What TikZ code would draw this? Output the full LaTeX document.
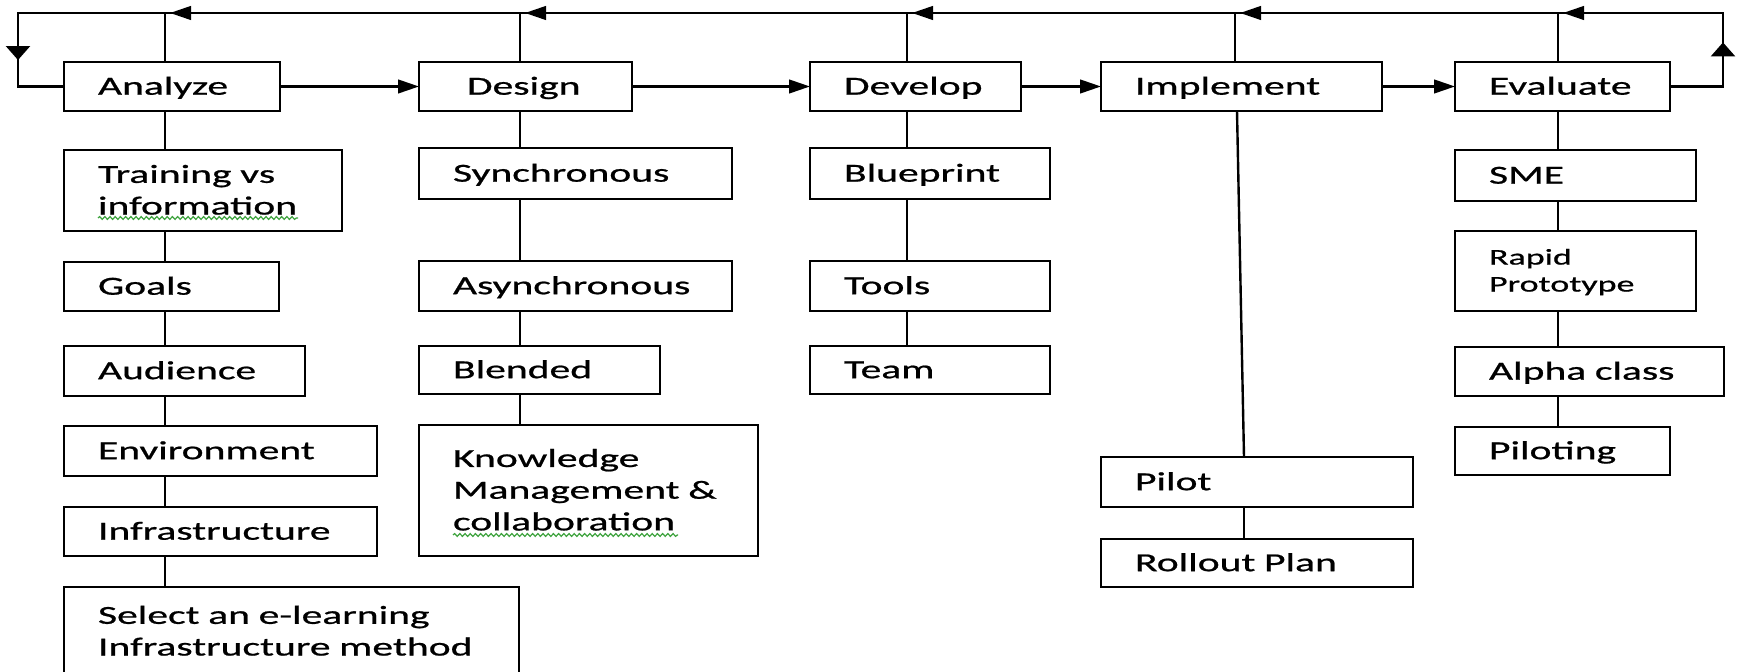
\documentclass[tikz,border=0pt]{standalone}
\usepackage{fontspec}
\setmainfont{Carlito}[FakeStretch=1.6, FakeBold=0.8]
\usetikzlibrary{arrows.meta, positioning, calc, backgrounds, decorations.pathmorphing}
\definecolor{spellgreen}{HTML}{3DA33D}
\hyphenpenalty=10000
\exhyphenpenalty=10000
\tikzset{
  box/.style={rectangle, draw, line width=1.2pt, fill=white, align=left,
              text width=#1, inner xsep=17pt, inner ysep=0pt, outer sep=0pt,
              minimum height=25pt, font=\fontsize{13}{15.85}\selectfont,
              execute at begin node={\rule{0pt}{0.92em}},
              execute at end node={\rule[-0.29em]{0pt}{0.29em}}},
  main/.style={box=#1, minimum height=24.5pt},
  small/.style={box=#1, font=\fontsize{11.25}{13.5}\selectfont},
  link/.style={line width=1.2pt},
  flow/.style={link, -{Triangle[length=10.5pt, width=6.8pt]}},
  flowv/.style={link, -{Triangle[length=7pt, width=12pt]}},
  back/.style={flow, shorten >=2.5pt},
  squig/.style={spellgreen, line width=0.6pt, decorate,
                decoration={snake, amplitude=0.7pt, segment length=2.6pt}},
}

\begin{document}
\begin{tikzpicture}[x=0.5pt, y=-0.5pt]
  \useasboundingbox (0,0) rectangle (1740,672);
  \clip (0,0) rectangle (1740,672);

  \node[main=74pt, anchor=north west] (an) at (64,62) {Analyze};
  \node[main=72.5pt, right=69.5pt of an] (de) {\hspace*{7pt}Design};
  \node[main=71.5pt, right=89pt of de] (dv) {Develop};
  \node[main=106.5pt, right=40pt of dv] (im) {Implement};
  \node[main=73.5pt, right=36.5pt of im] (ev) {Evaluate};

  \node[box=105pt, minimum height=40.5pt, below right=19.5pt and 0pt of an.south west] (trn) {Training vs\\information};
  \node[box=73.5pt, minimum height=24.5pt, below right=15.5pt and 0pt of trn.south west] (goa) {Goals};
  \node[box=86.5pt, below right=17.5pt and 0pt of goa.south west] (aud) {Audience};
  \node[box=122.5pt, below right=15pt and 0pt of aud.south west] (env) {Environment};
  \node[box=122.5pt, minimum height=24.5pt, below right=15.5pt and 0pt of env.south west] (inf) {Infrastructure};
  \node[box=193.5pt, minimum height=44.5pt, below right=15.5pt and 0pt of inf.south west] (sel) {Select an e-learning\\Infrastructure method};

  \node[box=122.5pt, minimum height=25.5pt, below right=18.5pt and 0pt of de.south west] (syn) {Synchronous};
  \node[box=122.5pt, below right=31pt and 0pt of syn.south west] (asy) {Asynchronous};
  \node[box=86.5pt, minimum height=24pt, below right=17.5pt and 0pt of asy.south west] (ble) {Blended};
  \node[box=135.5pt, minimum height=65.5pt, below right=15.5pt and 0pt of ble.south west] (kno) {Knowledge\\Management~\&\\collaboration};

  \node[box=86pt, minimum height=25.5pt, below right=18.5pt and 0pt of dv.south west] (blu) {Blueprint};
  \node[box=86pt, below right=31pt and 0pt of blu.south west] (too) {Tools};
  \node[box=86pt, minimum height=24pt, below right=17.5pt and 0pt of too.south west] (tea) {Team};

  \node[box=122pt, below right=173pt and 0pt of im.south west] (pil) {Pilot};
  \node[box=122pt, minimum height=24pt, below right=16pt and 0pt of pil.south west] (rol) {Rollout Plan};

  \node[box=86.5pt, minimum height=25.5pt, below right=19.5pt and 0pt of ev.south west] (sme) {SME};
  \node[small=86.5pt, minimum height=40pt, below right=15pt and 0pt of sme.south west] (rap) {Rapid\\Prototype};
  \node[box=100.5pt, minimum height=24.5pt, below right=18pt and 0pt of rap.south west] (alp) {Alpha class};
  \node[box=73.5pt, minimum height=24pt, below right=15.5pt and 0pt of alp.south west] (plt) {Piloting};

  \coordinate (cl) at (18,13);
  \coordinate (ja) at (165,13);
  \coordinate (jd) at (520,13);
  \coordinate (jv) at (907,13);
  \coordinate (ji) at (1235,13);
  \coordinate (je) at (1558,13);
  \coordinate (cr) at (1723,13);

  \begin{scope}[on background layer]
    \fill[white] (0,0) rectangle (1740,672);
    \draw[link] (ja) -- (sel.north -| ja);
    \draw[link] (jd) -- (kno.north -| jd);
    \draw[link] (jv) -- (tea.north -| jv);
    \draw[link] (je) -- (plt.north -| je);
    \draw[link] (ji) -- (im.north -| ji);
    \draw[link] ($(im.south -| ji)+(2,0)$) -- ($(pil.north -| ji)+(9,0)$);
    \draw[link] ($(pil.south -| ji)+(9,0)$) -- ($(rol.north -| ji)+(9,0)$);
  \end{scope}

  \draw[flow] (an.east) -- (de.west);
  \draw[flow] (de.east) -- (dv.west);
  \draw[flow] (dv.east) -- (im.west);
  \draw[flow] (im.east) -- (ev.west);

  \draw[link] (an.west) -| (cl) -- (cr) |- (ev.east);
  \draw[back] (cr) -- (je);
  \draw[back] (je) -- (ji);
  \draw[back] (ji) -- (jv);
  \draw[back] (jv) -- (jd);
  \draw[back] (jd) -- (ja);
  \draw[flowv] (cl) -- ($(cl)!0.64!(cl |- an.west)$);
  \draw[flowv] (cr |- ev.east) -- ($(cr |- ev.east)!0.6!(cr)$);

  \draw[squig] ($(trn.south west)+(34,-13)$) -- ++(200,0);
  \draw[squig] ($(kno.south west)+(34,-21)$) -- ++(225,0);
\end{tikzpicture}
\end{document}
